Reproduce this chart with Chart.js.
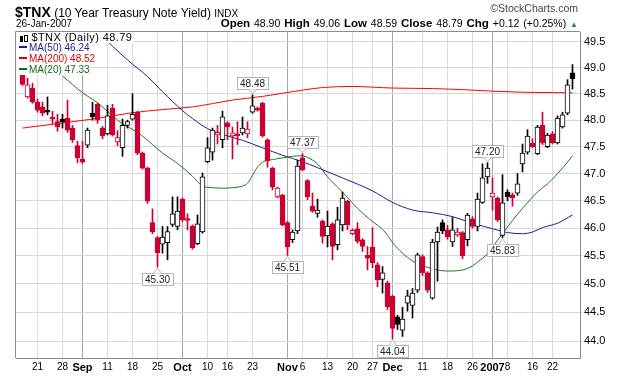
<!DOCTYPE html>
<html>
<head>
<meta charset="utf-8">
<script src="https://cdn.jsdelivr.net/npm/chart.js@4.4.0/dist/chart.umd.min.js"></script>
<style>
  body { margin: 0; background: #fff; font-family: "Liberation Sans", Arial, sans-serif; }
  #wrap { position: relative; width: 620px; height: 376px; overflow: hidden; }
  #c { position: absolute; left: 0; top: 0; }
  .hd { position: absolute; white-space: nowrap; color: #000; }
  .lg { position: absolute; left: 17px; background: #fff; white-space: nowrap; height: 11px; }
  .dash { display: inline-block; width: 8px; height: 2px; vertical-align: middle; margin: 0 2px 2px 2px; }
</style>
</head>
<body>
<div id="wrap">
  <canvas id="c" width="620" height="376"></canvas>

  <div class="hd" style="left:15px;top:5px;line-height:14px">
    <b style="font-size:14px">$TNX</b><span style="font-size:12px"> (10 Year Treasury Note Yield) </span><span style="font-size:10px">INDX</span>
  </div>
  <div class="hd" style="left:16px;top:19px;font-size:10px;line-height:10px">26-Jan-2007</div>
  <div class="hd" style="right:42px;top:3px;font-size:10.5px;line-height:11px;color:#444">&copy;StockCharts.com</div>
  <div class="hd" id="quote" style="right:42px;top:18px;font-size:10.5px;line-height:11px;word-spacing:1px"></div>

  <div class="lg" style="top:32px;font-size:11px;line-height:11px;letter-spacing:0.4px;padding-right:2px">
    <span style="display:inline-block;width:3px;height:6px;background:#000;margin-left:3px;vertical-align:-1px"></span><span style="display:inline-block;width:2px;height:5px;border:1px solid #000;margin-left:1px;vertical-align:-1px"></span>
    <span id="lgMain"></span>
  </div>
  <div class="lg" style="top:42px;font-size:10px;line-height:11px;color:#1c1c98"><span class="dash" style="background:#1c1c98"></span><span id="lg50"></span></div>
  <div class="lg" style="top:53px;font-size:10px;line-height:11px;color:#e00000"><span class="dash" style="background:#e00000"></span><span id="lg200"></span></div>
  <div class="lg" style="top:64px;font-size:10px;line-height:11px;color:#146e14"><span class="dash" style="background:#146e14"></span><span id="lg20"></span></div>
</div>

<script>
// trading days shown on the chart
var dates = [
  '2006-08-16','2006-08-17','2006-08-18','2006-08-21','2006-08-22','2006-08-23','2006-08-24','2006-08-25','2006-08-28','2006-08-29','2006-08-30','2006-08-31',
  '2006-09-01','2006-09-05','2006-09-06','2006-09-07','2006-09-08','2006-09-11','2006-09-12','2006-09-13','2006-09-14','2006-09-15',
  '2006-09-18','2006-09-19','2006-09-20','2006-09-21','2006-09-22','2006-09-25','2006-09-26','2006-09-27','2006-09-28','2006-09-29',
  '2006-10-02','2006-10-03','2006-10-04','2006-10-05','2006-10-06','2006-10-10','2006-10-11','2006-10-12','2006-10-13',
  '2006-10-16','2006-10-17','2006-10-18','2006-10-19','2006-10-20','2006-10-23','2006-10-24','2006-10-25','2006-10-26','2006-10-27','2006-10-30','2006-10-31',
  '2006-11-01','2006-11-02','2006-11-03','2006-11-06','2006-11-07','2006-11-08','2006-11-09','2006-11-10','2006-11-13','2006-11-14','2006-11-15','2006-11-16','2006-11-17',
  '2006-11-20','2006-11-21','2006-11-22','2006-11-24','2006-11-27','2006-11-28','2006-11-29','2006-11-30',
  '2006-12-01','2006-12-04','2006-12-05','2006-12-06','2006-12-07','2006-12-08','2006-12-11','2006-12-12','2006-12-13','2006-12-14','2006-12-15',
  '2006-12-18','2006-12-19','2006-12-20','2006-12-21','2006-12-22','2006-12-26','2006-12-27','2006-12-28','2006-12-29',
  '2007-01-03','2007-01-04','2007-01-05','2007-01-08','2007-01-09','2007-01-10','2007-01-11','2007-01-12',
  '2007-01-16','2007-01-17','2007-01-18','2007-01-19','2007-01-22','2007-01-23','2007-01-24','2007-01-25','2007-01-26'
];

var opens = [
  48.86,48.44,48.61,48.34,48.25,48.17,48.04,47.97,48.02,48.04,47.85,47.52,
  47.27,47.53,48.13,48.30,47.85,47.74,48.23,47.59,47.48,47.90,
  48.02,48.15,47.38,47.10,46.10,45.83,45.71,45.74,46.07,46.03,
  46.53,46.17,46.04,45.72,45.93,47.22,47.40,47.72,47.63,
  47.95,47.70,47.74,47.76,47.74,48.15,48.23,48.32,47.63,47.10,46.57,46.60,
  46.10,45.79,45.95,47.29,46.87,46.40,46.27,46.13,45.86,46.08,45.70,46.06,46.49,
  45.90,45.99,45.79,45.51,45.66,45.34,45.08,45.02,
  44.78,44.42,44.19,44.66,44.62,44.89,45.49,45.20,44.75,45.75,46.10,
  45.97,45.75,45.88,45.92,45.79,46.17,46.03,46.47,46.94,
  46.57,46.55,45.87,46.66,46.61,46.64,47.18,47.40,
  47.57,47.37,47.90,47.50,47.74,47.57,47.87,48.13,48.90
];
var highs = [
  48.92,48.80,48.70,48.40,48.34,48.44,48.17,48.11,48.11,48.38,47.90,47.60,
  47.60,47.85,48.34,48.32,47.88,48.28,48.30,47.80,48.02,48.00,
  48.50,48.17,47.40,47.12,46.35,45.85,46.03,46.03,46.57,46.57,
  46.55,46.26,46.06,46.24,47.01,47.67,47.85,47.90,48.17,
  47.97,47.87,47.97,48.06,47.97,48.48,48.25,48.34,47.65,47.12,46.75,46.62,
  46.12,45.97,47.25,47.37,46.89,46.64,46.53,46.15,46.31,46.10,46.38,46.66,46.51,
  45.99,46.10,45.81,45.67,46.01,45.38,45.31,45.05,
  44.80,44.45,44.59,44.89,44.92,45.55,45.52,45.22,45.80,46.02,46.15,
  46.05,46.20,46.00,45.94,46.27,46.21,46.64,47.18,47.20,
  46.92,46.57,46.98,46.70,46.64,47.00,47.55,47.82,
  47.65,47.90,48.15,47.75,47.78,48.08,48.15,48.77,49.06
];
var lows = [
  48.66,48.42,48.32,48.15,48.08,48.10,47.93,47.79,47.85,47.77,47.58,47.20,
  47.19,47.48,48.00,47.94,47.65,47.72,47.70,47.52,47.32,47.85,
  48.00,47.35,47.08,46.45,45.90,45.30,45.55,45.43,46.03,45.97,
  46.12,45.97,45.62,45.70,45.91,47.20,47.25,47.55,47.48,
  47.63,47.27,47.54,47.72,47.67,48.13,48.17,47.68,47.12,46.70,46.55,46.04,
  45.51,45.74,45.90,47.05,46.52,46.29,46.20,45.73,45.66,45.43,45.61,45.95,45.97,
  45.88,45.73,45.58,45.25,45.29,44.95,44.84,44.55,
  44.04,44.20,44.08,44.52,44.40,44.85,45.15,44.85,44.73,45.05,45.90,
  45.80,45.67,45.85,45.45,45.68,46.00,45.95,46.45,46.82,
  46.33,46.12,45.83,46.50,46.40,46.60,47.03,47.36,
  47.48,47.35,47.54,47.48,47.55,47.55,47.85,48.10,48.59
];
var closes = [
  48.68,48.67,48.34,48.19,48.13,48.15,48.02,47.87,47.97,47.81,47.63,47.29,
  47.21,47.81,48.06,48.00,47.70,48.08,47.72,47.67,47.90,47.97,
  48.11,47.38,47.10,46.49,45.93,45.56,45.84,45.94,46.26,46.31,
  46.15,46.14,45.65,46.08,46.94,47.48,47.81,47.77,48.06,
  47.87,47.76,47.70,47.85,47.83,48.27,48.19,47.70,47.24,46.75,46.73,46.06,
  45.66,45.93,47.14,47.07,46.57,46.31,46.33,45.85,46.04,45.67,46.15,46.55,46.06,
  45.96,45.76,45.67,45.46,45.38,45.07,45.20,44.60,
  44.22,44.29,44.38,44.79,44.84,45.52,45.20,44.89,45.75,45.93,45.95,
  45.84,45.97,45.93,45.50,46.24,46.03,46.53,46.92,47.10,
  46.64,46.15,46.46,46.57,46.55,46.81,47.38,47.70,
  47.50,47.87,47.57,47.72,47.57,48.04,48.10,48.67,48.79
];
var priorClose = 48.90;

// moving averages: [day index, value]
var ma20 = [[8,48.84],[10,48.68],[12,48.52],[15,48.33],[18,48.08],[20,47.93],[23,47.77],[26,47.54],[28,47.38],[31,47.19],
  [34,46.95],[36,46.77],[38,46.74],[40,46.73],[42,46.74],[44,46.77],[45,46.82],[46,46.97],[47,47.12],[48,47.21],[50,47.26],
  [52,47.29],[54,47.32],[56,47.33],[57,47.30],[59,47.18],[61,46.94],[62,46.84],[64,46.66],[67,46.36],[70,46.12],[72,45.98],
  [73,45.87],[74,45.74],[76,45.55],[78,45.41],[80,45.33],[82,45.27],[85,45.23],[88,45.25],[90,45.32],[91,45.39],[93,45.54],
  [95,45.78],[98,46.14],[100,46.36],[103,46.66],[105,46.81],[106,46.90],[108,47.10],[110,47.33]];
var ma50 = [[15,49.70],[18,49.42],[21,49.15],[25,48.83],[28,48.54],[32,48.18],[34,48.03],[37,47.84],[40,47.73],[44,47.62],
  [48,47.48],[52,47.34],[54,47.28],[56,47.22],[59,47.11],[64,46.92],[70,46.68],[74,46.47],[78,46.33],[82,46.28],[86,46.21],
  [90,46.09],[94,45.99],[97,45.92],[100,45.90],[102,45.93],[104,46.01],[107,46.09],[110,46.24]];
var ma200 = [[0,47.85],[14,48.02],[22,48.14],[28,48.20],[34,48.25],[42,48.38],[48,48.45],[52,48.51],[56,48.57],[60,48.62],
  [66,48.64],[74,48.61],[82,48.60],[88,48.58],[94,48.55],[100,48.53],[110,48.52]];

var yTicks = [44.0, 44.5, 45.0, 45.5, 46.0, 46.5, 47.0, 47.5, 48.0, 48.5, 49.0, 49.5];
var xTickLabels = [
  ['2006-08-21','21'],['2006-08-28','28'],['2006-09-01','Sep'],['2006-09-11','11'],['2006-09-18','18'],['2006-09-25','25'],
  ['2006-10-02','Oct'],['2006-10-10','10'],['2006-10-16','16'],['2006-10-23','23'],['2006-11-01','Nov'],['2006-11-06','6'],
  ['2006-11-13','13'],['2006-11-20','20'],['2006-11-27','27'],['2006-12-01','Dec'],['2006-12-11','11'],['2006-12-18','18'],
  ['2006-12-26','26'],['2007-01-03','2007'],['2007-01-08','8'],['2007-01-16','16'],['2007-01-22','22']
];
// marked highs / lows
var callouts = [[46,'high'],[56,'high'],[93,'high'],[27,'low'],[53,'low'],[74,'low'],[96,'low']];

var RED = '#cc0033', BLK = '#000000';
var n = closes.length;

var colors = closes.map(function (c, i) { return c >= (i ? closes[i - 1] : priorClose) ? BLK : RED; });
var fills = closes.map(function (c, i) { return c < opens[i] ? colors[i] : '#ffffff'; });

var tickMap = {};
xTickLabels.forEach(function (t) { tickMap[dates.indexOf(t[0])] = t[1]; });
function isMonth(v) { var s = tickMap[v]; return s !== undefined && !/^\d{1,2}$/.test(s); }

function pairs(arr) { return arr.map(function (p) { return { x: p[0], y: p[1] }; }); }

// header and legend text
var last = n - 1;
var chg = closes[last] - closes[last - 1];
document.getElementById('quote').innerHTML =
  '<b style="font-size:11.5px">Open</b> ' + opens[last].toFixed(2) +
  ' <b style="font-size:11.5px">High</b> ' + highs[last].toFixed(2) +
  ' <b style="font-size:11.5px">Low</b> ' + lows[last].toFixed(2) +
  ' <b style="font-size:11.5px">Close</b> ' + closes[last].toFixed(2) +
  ' <b style="font-size:11.5px">Chg</b> ' + (chg >= 0 ? '+' : '') + chg.toFixed(2) +
  ' (' + (chg >= 0 ? '+' : '') + (chg / closes[last - 1] * 100).toFixed(2) + '%)' +
  ' <span style="color:#229922;font-size:8px;word-spacing:0">&#9650;</span>';
document.getElementById('lgMain').textContent = '$TNX (Daily) ' + closes[last].toFixed(2);
document.getElementById('lg50').textContent = 'MA(50) ' + ma50[ma50.length - 1][1].toFixed(2);
document.getElementById('lg200').textContent = 'MA(200) ' + ma200[ma200.length - 1][1].toFixed(2);
document.getElementById('lg20').textContent = 'MA(20) ' + ma20[ma20.length - 1][1].toFixed(2);

var extras = {
  id: 'extras',
  beforeDatasetsDraw: function (chart) {
    var ctx = chart.ctx, a = chart.chartArea;
    ctx.save();
    ctx.strokeStyle = '#8c8c8c';
    ctx.lineWidth = 1;
    ctx.beginPath();
    ctx.moveTo(a.left - 0.5, a.bottom);
    ctx.lineTo(a.left - 0.5, a.top - 0.5);
    ctx.lineTo(a.right, a.top - 0.5);
    ctx.stroke();
    ctx.restore();
  },
  afterDatasetsDraw: function (chart) {
    var ctx = chart.ctx, xs = chart.scales.x, ys = chart.scales.y;
    ctx.save();
    ctx.font = '10px "Liberation Sans", Arial, sans-serif';
    ctx.textAlign = 'center';
    ctx.textBaseline = 'middle';
    callouts.forEach(function (c) {
      var i = c[0], hi = c[1] === 'high';
      var v = hi ? highs[i] : lows[i];
      var x = xs.getPixelForValue(i), y = ys.getPixelForValue(v);
      var txt = v.toFixed(2);
      var w = Math.round(ctx.measureText(txt).width) + 6, h = 12;
      var bx = Math.round(x - w / 2) + 0.5;
      var by = hi ? Math.round(y - 6 - h) + 0.5 : Math.round(y + 6) + 0.5;
      var edge = hi ? by + h : by;
      var tip = hi ? y - 1 : y + 1;
      ctx.fillStyle = '#ffffff';
      ctx.strokeStyle = '#b4b4b4';
      ctx.lineWidth = 1;
      ctx.fillRect(bx, by, w, h);
      ctx.strokeRect(bx, by, w, h);
      ctx.beginPath();
      ctx.moveTo(x - 4, edge);
      ctx.lineTo(x, tip);
      ctx.lineTo(x + 4, edge);
      ctx.fill();
      ctx.stroke();
      ctx.fillStyle = '#222222';
      ctx.fillText(txt, x, by + h / 2 + 0.5);
    });
    ctx.restore();
  }
};

var ctx = document.getElementById('c').getContext('2d');
var chart = new Chart(ctx, {
  type: 'bar',
  data: {
    datasets: [
      {
        type: 'line', label: 'MA(200)', data: pairs(ma200), order: 5,
        borderColor: '#ff0000', borderWidth: 1, pointRadius: 0, cubicInterpolationMode: 'monotone'
      },
      {
        type: 'line', label: 'MA(50)', data: pairs(ma50), order: 4,
        borderColor: '#1c1c98', borderWidth: 1, pointRadius: 0, cubicInterpolationMode: 'monotone'
      },
      {
        type: 'line', label: 'MA(20)', data: pairs(ma20), order: 3,
        borderColor: '#1d7a1d', borderWidth: 1, pointRadius: 0, cubicInterpolationMode: 'monotone'
      },
      {
        label: 'wick', order: 2, grouped: false,
        data: highs.map(function (h, i) { return { x: i, y: [lows[i], h] }; }),
        backgroundColor: colors, borderWidth: 0, barThickness: 1
      },
      {
        label: '$TNX', order: 1, grouped: false,
        data: opens.map(function (o, i) { return { x: i, y: [Math.min(o, closes[i]), Math.max(o, closes[i])] }; }),
        backgroundColor: fills, borderColor: colors, borderWidth: 1, borderSkipped: false,
        barThickness: 5, minBarLength: 2
      }
    ]
  },
  options: {
    responsive: false,
    animation: false,
    devicePixelRatio: 1,
    layout: { padding: { left: 16, top: 32, right: 0, bottom: 0 } },
    plugins: { legend: { display: false }, tooltip: { enabled: false } },
    scales: {
      x: {
        type: 'linear',
        offset: false,
        min: -1.3,
        max: 111.5,
        afterBuildTicks: function (s) {
          s.ticks = Object.keys(tickMap).map(function (k) { return { value: +k }; });
        },
        afterFit: function (s) { s.height = 18; },
        ticks: {
          autoSkip: false,
          maxRotation: 0,
          padding: 3,
          color: '#000',
          callback: function (v) { return tickMap[v] || ''; },
          font: function (c) {
            var m = c.tick && isMonth(c.tick.value);
            return { family: '"Liberation Sans", Arial, sans-serif', size: m ? 11 : 10, weight: m ? 'bold' : 'normal' };
          }
        },
        grid: {
          offset: false,
          drawTicks: false,
          color: function (c) { return c.tick && isMonth(c.tick.value) ? '#a6a6a6' : '#dadada'; }
        },
        border: { color: '#8c8c8c' }
      },
      y: {
        type: 'logarithmic',
        position: 'right',
        min: 43.707,
        max: 49.695,
        afterBuildTicks: function (s) {
          s.ticks = yTicks.map(function (v) { return { value: v }; });
        },
        afterFit: function (s) { s.width = 40; },
        ticks: {
          padding: 1,
          color: '#000',
          font: { family: '"Liberation Sans", Arial, sans-serif', size: 11 },
          callback: function (v) { return Number(v).toFixed(1); }
        },
        grid: { color: '#d8d8d8', tickLength: 3 },
        border: { color: '#8c8c8c' }
      }
    }
  },
  plugins: [extras]
});
</script>
</body>
</html>
